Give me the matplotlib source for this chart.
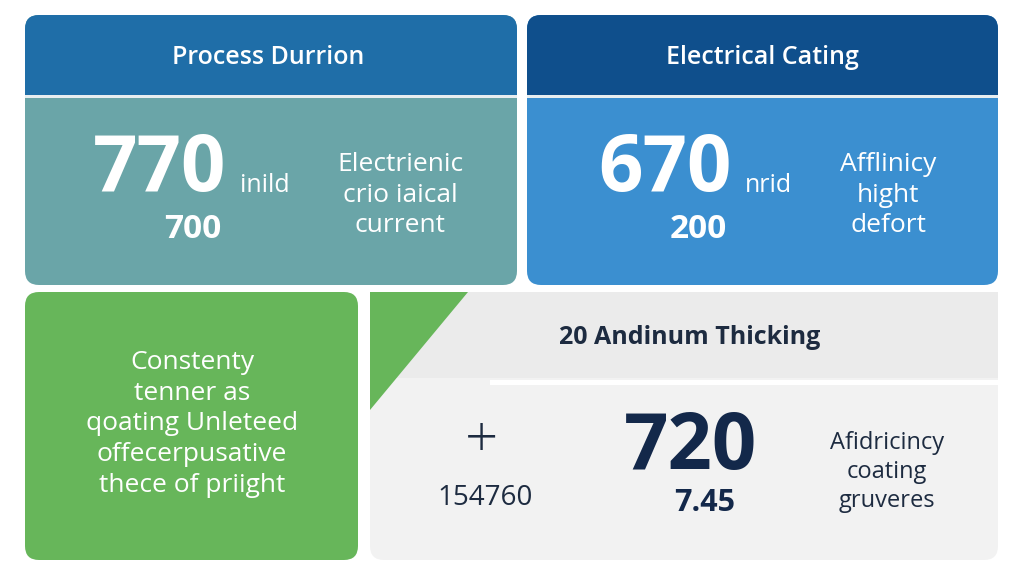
import matplotlib.pyplot as plt
from matplotlib.patches import FancyBboxPatch, Rectangle, Polygon

# card content
headers = ["Process Durrion", "Electrical Cating"]
big_values = ["770", "670"]
big_units = ["inild", "nrid"]
sub_values = ["700", "200"]
side_notes = ["Electrienic\ncrio iaical\ncurrent", "Afflinicy\nhight\ndefort"]
green_text = "Constenty\ntenner as\nqoating Unleteed\noffecerpusative\nthece of priight"
bottom_title = "20 Andinum Thicking"
bottom_small = "154760"
bottom_big = "720"
bottom_sub = "7.45"
bottom_note = "Afidricincy\ncoating\ngruveres"

fig = plt.figure(figsize=(10.24, 5.76), dpi=100)
ax = fig.add_axes([0, 0, 1, 1])
ax.set_xlim(0, 1024)
ax.set_ylim(576, 0)
ax.axis('off')
fig.patch.set_facecolor('white')

def box(x, y, w, h, c, r=14):
    ax.add_patch(FancyBboxPatch((x + r, y + r), w - 2 * r, h - 2 * r,
                                boxstyle=f"round,pad={r}", fc=c, ec='none'))

# top left
box(25, 15, 492, 270, '#6aa5a8')
box(25, 15, 492, 80, '#1f6ea8')
ax.add_patch(Rectangle((25, 60), 492, 35, fc='#1f6ea8', ec='none'))
ax.add_patch(Rectangle((25, 95), 492, 3, fc='#e8eef0', ec='none'))
# top right
box(527, 15, 471, 270, '#3b8fd0')
box(527, 15, 471, 80, '#0f4f8c')
ax.add_patch(Rectangle((527, 60), 471, 35, fc='#0f4f8c', ec='none'))
ax.add_patch(Rectangle((527, 95), 471, 3, fc='#e8eef0', ec='none'))
# bottom left
box(25, 292, 333, 268, '#67b65a')
# bottom right
box(370, 292, 628, 268, '#f2f2f2')
ax.add_patch(Rectangle((370, 292), 628, 86, fc='#ebebeb', ec='none'))
ax.add_patch(Rectangle((490, 380), 508, 5, fc='white', ec='none'))
ax.add_patch(Polygon([(370, 292), (468, 292), (370, 410)], fc='#67b65a', ec='none'))

fam = ['Open Sans', 'DejaVu Sans']
hx = [268, 762]
for i, hdr in enumerate(headers):
    ax.text(hx[i], 57, hdr, color='white', fontsize=18, fontweight='semibold',
            ha='center', va='center', family=fam)

bx = [160, 665]
nx = [400, 888]
for i in range(2):
    ax.text(bx[i], 170, big_values[i], color='white', fontsize=56, fontweight='bold',
            ha='center', va='center', family=fam)
    ax.text(bx[i] + 80, 186, big_units[i], color='white', fontsize=18, ha='left',
            va='center', family=fam)
    ax.text(bx[i] + 33, 229, sub_values[i], color='white', fontsize=24, fontweight='bold',
            ha='center', va='center', family=fam)
    ax.text(nx[i], 195, side_notes[i], color='white', fontsize=19, ha='center',
            va='center', linespacing=1.3, family=fam)

ax.text(192, 424, green_text, color='white', fontsize=19, ha='center', va='center',
        linespacing=1.3, family=fam)
ax.text(690, 338, bottom_title, color='#1d2b40', fontsize=18, fontweight='bold',
        ha='center', va='center', family=fam)
ax.text(482, 442, "+", color='#1d2b40', fontsize=42, fontweight='light',
        ha='center', va='center', family=fam)
ax.text(485, 498, bottom_small, color='#1d2b40', fontsize=20, ha='center', va='center', family=fam)
ax.text(690, 448, bottom_big, color='#13284a', fontsize=56, fontweight='bold',
        ha='center', va='center', family=fam)
ax.text(705, 503, bottom_sub, color='#13284a', fontsize=22, fontweight='bold',
        ha='center', va='center', family=fam)
ax.text(887, 472, bottom_note, color='#1d2b40', fontsize=17, ha='center', va='center',
        linespacing=1.3, family=fam)

fig.savefig('out.png', dpi=100)
